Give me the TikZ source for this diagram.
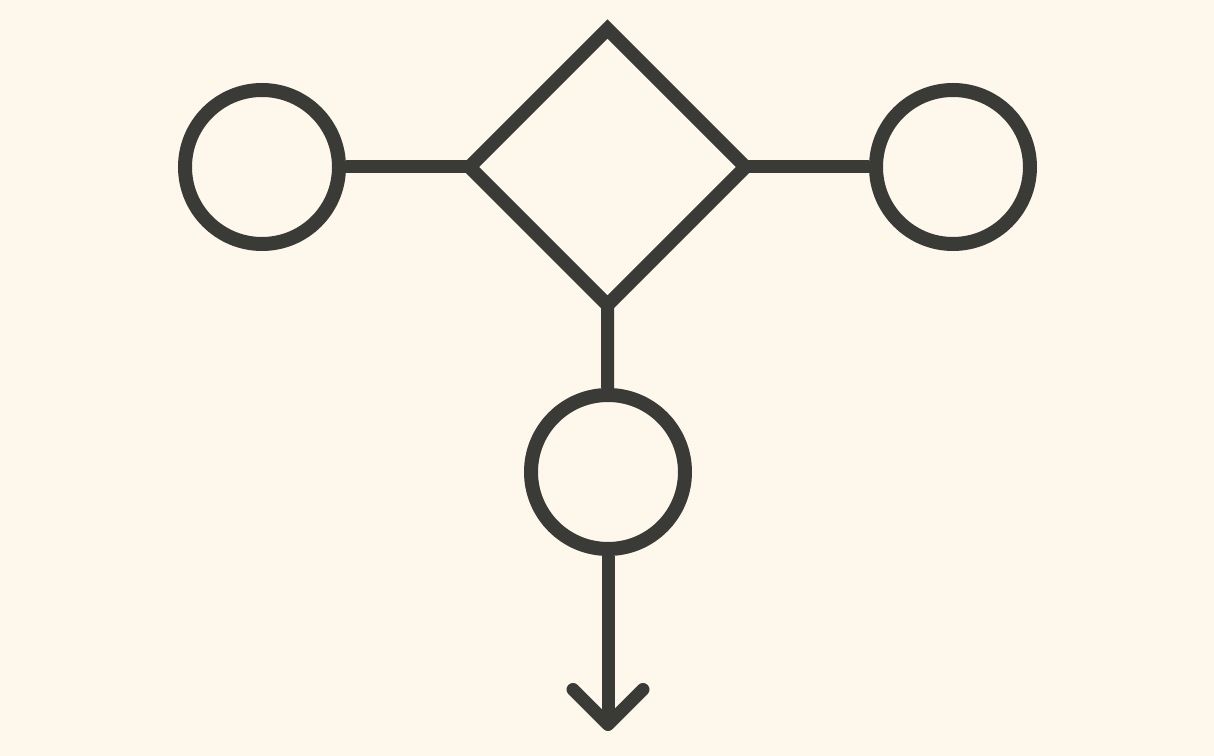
\documentclass[tikz,border=0pt]{standalone}
\usetikzlibrary{shapes.geometric,arrows.meta}

\definecolor{paper}{HTML}{FEF8EC}
\definecolor{ink}{HTML}{3A3A37}

\tikzset{
  port/.style={circle,draw=ink,line width=1.4mm,minimum size=15.4mm,inner sep=0pt},
  junction/.style={diamond,draw=ink,line width=1.35mm,minimum size=27.6mm,inner sep=0pt,outer sep=0pt,aspect=1},
  wire/.style={draw=ink,line width=1.3mm}
}

\begin{document}
\begin{tikzpicture}

      % background, fixes the size of the page
      \fill[paper] (0,0) rectangle (12.14,7.56);

      % the diamond and the three circles
      \node[junction] (mix) at (6.075,5.89) {};
      \node[port] (left) at (2.62,5.89) {};
      \node[port] (right) at (9.53,5.89) {};
      \node[port] (out) at (6.08,2.84) {};

      % free end of the arrow
      \coordinate (tip) at (6.08,0.25);

      \draw[wire] (left) -- (mix.west);
      \draw[wire] (mix.east) -- (right);
      \draw[wire] (mix.south) -- (out);
      \draw[wire,-{Straight Barb[length=3.5mm,width=7mm,round]}] (out) -- (tip);

\end{tikzpicture}
\end{document}
